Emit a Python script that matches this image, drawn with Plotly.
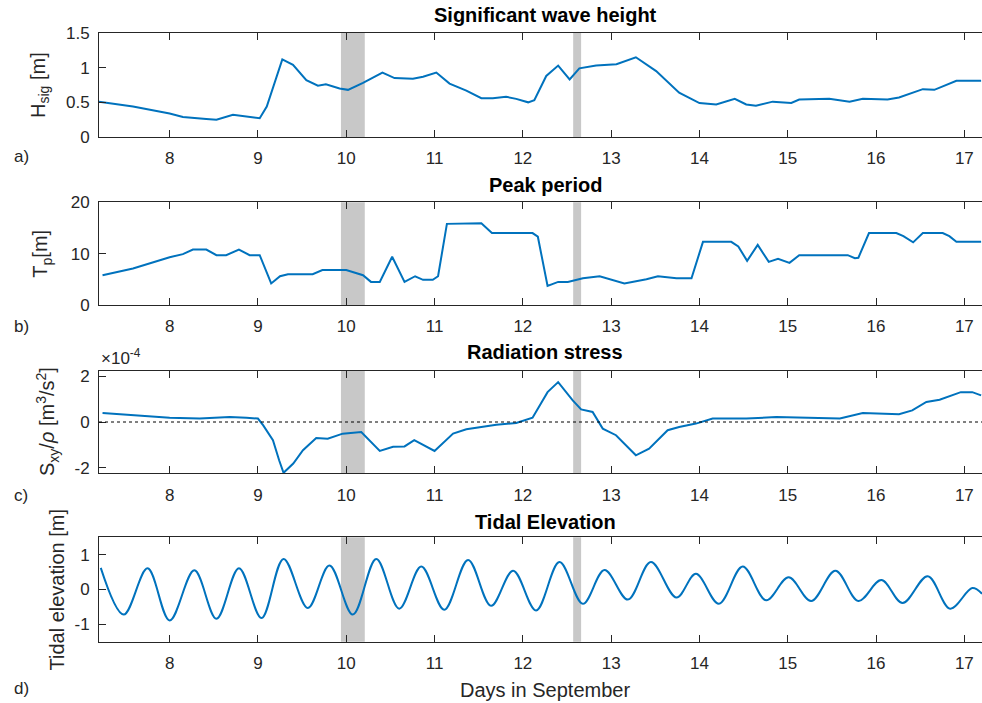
import plotly.graph_objects as go

# ---------------- data ----------------
hsig_days = [7.20, 7.585, 8.00, 8.15, 8.415, 8.53, 8.717, 8.87, 9.02, 9.10, 9.17, 9.276,
             9.397, 9.548, 9.679, 9.77, 9.925, 10.02, 10.19, 10.30, 10.41, 10.547, 10.755,
             10.87, 11.02, 11.17, 11.36, 11.53, 11.66, 11.81, 11.925, 12.06, 12.13, 12.265,
             12.40, 12.53, 12.64, 12.83, 13.06, 13.28, 13.51, 13.77, 14.00, 14.19, 14.40,
             14.53, 14.64, 14.83, 15.04, 15.13, 15.47, 15.70, 15.85, 16.13, 16.26, 16.53,
             16.66, 16.91, 17.19]
hsig = [0.51, 0.44, 0.34, 0.29, 0.26, 0.25, 0.32, 0.29, 0.27, 0.44, 0.70, 1.12,
        1.04, 0.82, 0.74, 0.76, 0.70, 0.68, 0.78, 0.86, 0.93, 0.85, 0.84,
        0.87, 0.93, 0.77, 0.67, 0.56, 0.56, 0.58, 0.55, 0.50, 0.53, 0.88,
        1.03, 0.83, 0.99, 1.03, 1.05, 1.15, 0.95, 0.64, 0.49, 0.47, 0.55,
        0.47, 0.45, 0.51, 0.49, 0.54, 0.55, 0.51, 0.55, 0.54, 0.57, 0.69,
        0.68, 0.81, 0.81]

tp_days = [7.24, 7.585, 8.00, 8.15, 8.264, 8.415, 8.53, 8.64, 8.785, 8.906, 9.02, 9.15,
           9.25, 9.34, 9.62, 9.73, 10.00, 10.19, 10.28, 10.38, 10.52, 10.66, 10.78,
           10.87, 10.98, 11.04, 11.14, 11.53, 11.65, 12.11, 12.17, 12.28, 12.40, 12.51,
           12.68, 12.87, 13.15, 13.40, 13.53, 13.74, 13.91, 14.04, 14.36, 14.44, 14.54,
           14.66, 14.785, 14.89, 15.02, 15.13, 15.68, 15.76, 15.80, 15.92, 16.23, 16.31,
           16.42, 16.53, 16.755, 16.83, 16.91, 17.19]
tp = [5.8, 7.1, 9.3, 9.9, 10.8, 10.8, 9.7, 9.7, 10.8, 9.7, 9.7, 4.2,
      5.6, 6.0, 6.0, 6.8, 6.8, 5.8, 4.5, 4.5, 9.4, 4.5, 5.6,
      4.9, 4.9, 5.6, 15.8, 15.9, 14.0, 14.0, 13.3, 3.7, 4.5, 4.5,
      5.2, 5.6, 4.2, 5.0, 5.6, 5.2, 5.2, 12.3, 12.3, 11.4, 8.6,
      11.7, 8.4, 9.0, 8.2, 9.7, 9.7, 9.1, 9.2, 14.0, 14.0, 13.4,
      12.2, 14.0, 14.0, 13.4, 12.3, 12.3]

sxy_days = [7.24, 7.585, 8.00, 8.34, 8.68, 8.87, 9.00, 9.06, 9.17, 9.24, 9.29, 9.40,
            9.51, 9.66, 9.79, 9.96, 10.17, 10.38, 10.53, 10.66, 10.77, 11.00, 11.21,
            11.36, 11.55, 11.70, 11.925, 12.11, 12.28, 12.40, 12.565, 12.66, 12.79,
            12.905, 13.055, 13.28, 13.43, 13.64, 13.77, 13.96, 14.15, 14.53, 14.87,
            15.36, 15.59, 15.85, 16.04, 16.26, 16.41, 16.57, 16.72, 16.83, 16.96,
            17.09, 17.19]
sxy = [0.39e-4, 0.29e-4, 0.19e-4, 0.15e-4, 0.22e-4, 0.19e-4, 0.15e-4, -0.15e-4, -0.80e-4,
       -1.68e-4, -2.23e-4, -1.82e-4, -1.24e-4, -0.70e-4, -0.73e-4, -0.51e-4, -0.44e-4,
       -1.27e-4, -1.09e-4, -1.07e-4, -0.80e-4, -1.27e-4, -0.51e-4, -0.32e-4, -0.22e-4,
       -0.12e-4, -0.04e-4, 0.19e-4, 1.31e-4, 1.75e-4, 0.95e-4, 0.55e-4, 0.44e-4,
       -0.29e-4, -0.58e-4, -1.46e-4, -1.17e-4, -0.36e-4, -0.22e-4, -0.07e-4, 0.15e-4,
       0.15e-4, 0.22e-4, 0.19e-4, 0.15e-4, 0.39e-4, 0.36e-4, 0.34e-4, 0.51e-4, 0.88e-4,
       0.98e-4, 1.12e-4, 1.31e-4, 1.31e-4, 1.17e-4]

tide_days = [7.22, 7.48, 7.75, 8.00, 8.28, 8.53, 8.785, 9.04, 9.29, 9.565, 9.81, 10.075,
             10.34, 10.60, 10.85, 11.11, 11.38, 11.64, 11.89, 12.15, 12.415, 12.68,
             12.925, 13.19, 13.45, 13.74, 13.96, 14.22, 14.49, 14.755, 15.01, 15.265,
             15.54, 15.80, 16.06, 16.30, 16.585, 16.84, 17.09, 17.20]
tide = [0.62, -0.72, 0.61, -0.89, 0.55, -0.84, 0.61, -0.82, 0.88, -0.53, 0.69, -0.72,
        0.88, -0.55, 0.66, -0.58, 0.85, -0.47, 0.54, -0.60, 0.79, -0.41,
        0.56, -0.29, 0.79, -0.23, 0.45, -0.41, 0.66, -0.31, 0.35, -0.33,
        0.54, -0.33, 0.27, -0.39, 0.38, -0.55, 0.04, -0.12]

band_start = [9.94, 12.57]
band_end = [10.21, 12.66]

x_ticks = [8, 9, 10, 11, 12, 13, 14, 15, 16, 17]
titles = ["Significant wave height", "Peak period", "Radiation stress", "Tidal Elevation"]
ylabels = ["H<sub>sig</sub> [m]", "T<sub>p</sub>[m]",
           "S<sub>xy</sub>/<i>ρ</i> [m<sup>3</sup>/s<sup>2</sup>]", "Tidal elevation [m]"]
panel_tags = ["a)", "b)", "c)", "d)"]
y_tickvals = [[0, 0.5, 1, 1.5], [0, 10, 20], [-2e-4, 0, 2e-4], [-1, 0, 1]]
y_ticktext = [["0", "0.5", "1", "1.5"], ["0", "10", "20"], ["-2", "0", "2"], ["-1", "0", "1"]]
y_ranges = [[0, 1.5], [0, 20], [-2.25e-4, 2.25e-4], [-1.5, 1.5]]

# ---------------- layout helpers ----------------
W, H = 982, 703
L = 99
FONT = "Liberation Sans, Arial, Helvetica, sans-serif"
AX = "#262626"
BLUE = "#0072BD"


def py(p):
    return 1 - p / H


def px(p):
    return (p - L) / (W - L)


panels = [(33, 137), (202.3, 305), (370.7, 473.3), (537.3, 641.7)]
title_y = [15, 185, 352, 521.7]
tag_y = [156, 326, 495, 688]
ylabel_x = [39, 42, 48, 56]

series = [(hsig_days, hsig), (tp_days, tp), (sxy_days, sxy), (tide_days, tide)]

fig = go.Figure()
annotations = []
shapes = []
for i, (xs, ys) in enumerate(series):
    n = "" if i == 0 else str(i + 1)
    fig.add_trace(go.Scatter(
        x=xs, y=ys, mode="lines",
        line=dict(color=BLUE, width=2, shape="spline" if i == 3 else "linear"),
        xaxis="x" + n, yaxis="y" + n, showlegend=False, hoverinfo="skip"))
    top, bot = panels[i]
    fig.layout["xaxis" + n] = dict(
        domain=[0, 1], anchor="y" + n, range=[7.2, 17.2], automargin=False,
        tickvals=x_ticks, ticks="inside", ticklen=7, tickwidth=1, tickcolor=AX,
        showline=True, linecolor=AX, linewidth=1, mirror="ticks",
        showgrid=False, zeroline=False,
        tickfont=dict(family=FONT, size=17, color=AX), ticklabelstandoff=6)
    fig.layout["yaxis" + n] = dict(
        domain=[py(bot), py(top)], anchor="x" + n, range=y_ranges[i], automargin=False,
        tickvals=y_tickvals[i], ticktext=y_ticktext[i],
        ticks="inside", ticklen=7, tickwidth=1, tickcolor=AX,
        showline=True, linecolor=AX, linewidth=1, mirror=False,
        showgrid=False, zeroline=False,
        tickfont=dict(family=FONT, size=17, color=AX), ticklabelstandoff=5)
    for b0, b1 in zip(band_start, band_end):
        shapes.append(dict(type="rect", xref="x" + n, yref="y" + n + " domain",
                           x0=b0, x1=b1, y0=0, y1=1, fillcolor="#c8c8c8",
                           line=dict(width=0), layer="below"))
    annotations.append(dict(text="<b>" + titles[i] + "</b>", xref="paper", yref="paper",
                            x=px(545), y=py(title_y[i]), xanchor="center", yanchor="middle",
                            showarrow=False, font=dict(family=FONT, size=20, color="black")))
    annotations.append(dict(text=ylabels[i], xref="paper", yref="paper",
                            x=px(ylabel_x[i]), y=py((top + bot) / 2), textangle=-90,
                            xanchor="center", yanchor="middle", showarrow=False,
                            font=dict(family=FONT, size=20, color=AX)))
    annotations.append(dict(text=panel_tags[i], xref="paper", yref="paper",
                            x=px(12), y=py(tag_y[i]), xanchor="left", yanchor="middle",
                            showarrow=False, font=dict(family=FONT, size=17, color=AX)))

# dotted zero line in the radiation-stress panel
shapes.append(dict(type="line", xref="x3 domain", yref="y3", x0=0, x1=1, y0=0, y1=0,
                   line=dict(color="black", width=1, dash="dot")))

annotations.append(dict(text="×10<sup>-4</sup>", xref="paper", yref="paper",
                        x=px(99), y=py(357), xanchor="left", yanchor="middle",
                        showarrow=False, font=dict(family=FONT, size=17, color=AX)))
annotations.append(dict(text="Days in September", xref="paper", yref="paper",
                        x=px(545), y=py(690), xanchor="center", yanchor="middle",
                        showarrow=False, font=dict(family=FONT, size=20, color=AX)))

fig.update_layout(width=W, height=H, margin=dict(l=L, r=0, t=0, b=0, autoexpand=False),
                  paper_bgcolor="white", plot_bgcolor="white",
                  shapes=shapes, annotations=annotations)

fig.write_html("out.html")
